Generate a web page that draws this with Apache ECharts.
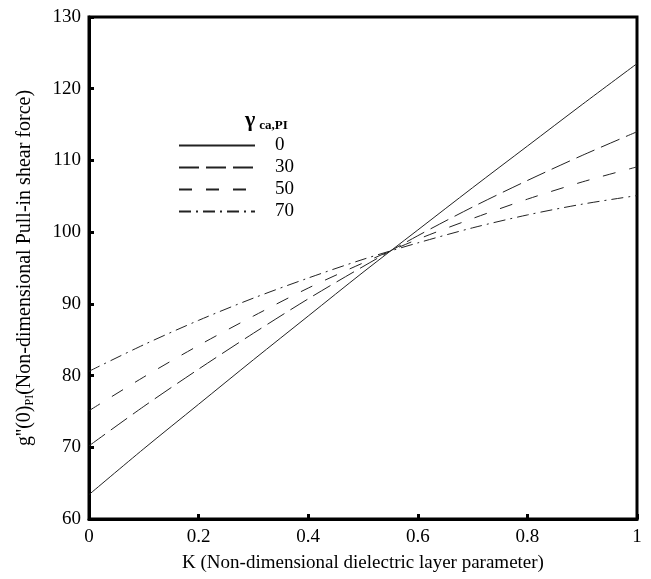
<!DOCTYPE html>
<html>
<head>
<meta charset="utf-8">
<script src="https://cdn.jsdelivr.net/npm/echarts@6/dist/echarts.min.js"></script>
<style>
  html, body { margin: 0; padding: 0; background: #fff; }
  #main { width: 651px; height: 579px; }
</style>
</head>
<body>
<div id="main"></div>
<script>
// K values (x axis)
var kValues = [0, 0.1, 0.2, 0.3, 0.4, 0.5, 0.6, 0.7, 0.8, 0.9, 1];

// g''(0)_PI, one list per gamma
var gamma0 = [63.4, 69.8, 76.0, 82.2, 88.3, 94.4, 100.3, 106.2, 112.0, 117.8, 123.5];
var gamma30 = [70.2, 75.7, 80.9, 85.9, 90.7, 95.2, 99.5, 103.5, 107.2, 110.7, 114.0];
var gamma50 = [75.1, 79.8, 84.2, 88.3, 92.2, 95.7, 99.0, 101.9, 104.6, 107.0, 109.1];
var gamma70 = [80.6, 84.3, 87.7, 90.8, 93.6, 96.2, 98.5, 100.6, 102.4, 103.9, 105.1];

var seriesNames = ['0', '30', '50', '70'];
var xTicks = ['0', '0.2', '0.4', '0.6', '0.8', '1'];

var font = 'Liberation Serif, Times New Roman, serif';

function pairs(ys) {
  var out = [];
  for (var i = 0; i < kValues.length; i++) {
    out.push([kValues[i], ys[i]]);
  }
  return out;
}

function makeSeries(name, ys, dash) {
  return {
    name: name,
    type: 'line',
    data: pairs(ys),
    symbol: 'none',
    smooth: 0.3,
    lineStyle: { color: '#222', width: 1, type: dash },
    itemStyle: { color: '#222' }
  };
}

var chart = echarts.init(document.getElementById('main'), null, { renderer: 'canvas' });

var option = {
  backgroundColor: '#ffffff',
  animation: false,
  textStyle: { fontFamily: font, color: '#000' },
  grid: {
    left: 89,
    right: 14,
    top: 17,
    bottom: 60,
    show: true,
    borderColor: '#000',
    borderWidth: 3
  },
  title: {
    text: '{g|γ}{s|ca,PI}',
    left: 240,
    top: 103,
    textStyle: {
      rich: {
        g: { fontFamily: font, fontSize: 22, color: '#000', lineHeight: 24 },
        s: { fontFamily: font, fontSize: 13, color: '#000', lineHeight: 12, verticalAlign: 'bottom', padding: [0, 0, 0, 4] }
      }
    }
  },
  legend: {
    orient: 'vertical',
    left: 178,
    top: 136,
    padding: 0,
    itemWidth: 76,
    itemHeight: 10,
    itemGap: 3,
    data: seriesNames,
    itemStyle: { opacity: 0 },
    textStyle: { fontFamily: font, fontSize: 19, color: '#000', padding: [0, 0, 0, 15] }
  },
  xAxis: {
    type: 'value',
    min: 0,
    max: 1,
    interval: 0.2,
    name: 'K (Non-dimensional dielectric layer parameter)',
    nameLocation: 'middle',
    nameGap: 35,
    nameTextStyle: { fontFamily: font, fontSize: 19, color: '#000' },
    axisLine: { show: true, lineStyle: { color: '#000', width: 3 } },
    axisTick: { show: true, inside: true, length: 5, lineStyle: { color: '#000', width: 3 } },
    axisLabel: {
      margin: 9,
      fontFamily: font,
      fontSize: 19,
      color: '#000',
      formatter: function (v) {
        var idx = Math.round(v / 0.2);
        return xTicks[idx];
      }
    },
    splitLine: { show: false }
  },
  yAxis: {
    type: 'value',
    min: 60,
    max: 130,
    interval: 10,
    name: '{n|g\'\'(0)}{s|PI}{n|(Non-dimensional Pull-in shear force)}',
    nameLocation: 'middle',
    nameRotate: 90,
    nameGap: 53,
    nameTextStyle: {
      rich: {
        n: { fontFamily: font, fontSize: 20, color: '#000', lineHeight: 22 },
        s: { fontFamily: font, fontSize: 12, color: '#000', lineHeight: 10, verticalAlign: 'bottom' }
      }
    },
    axisLine: { show: true, lineStyle: { color: '#000', width: 3 } },
    axisTick: { show: true, inside: true, length: 5, lineStyle: { color: '#000', width: 3 } },
    axisLabel: { margin: 8, fontFamily: font, fontSize: 19, color: '#000' },
    splitLine: { show: false }
  },
  series: [
    makeSeries(seriesNames[0], gamma0, 'solid'),
    makeSeries(seriesNames[1], gamma30, [20, 7]),
    makeSeries(seriesNames[2], gamma50, [13, 14]),
    makeSeries(seriesNames[3], gamma70, [12, 5, 2, 5])
  ]
};

chart.setOption(option);
</script>
</body>
</html>
